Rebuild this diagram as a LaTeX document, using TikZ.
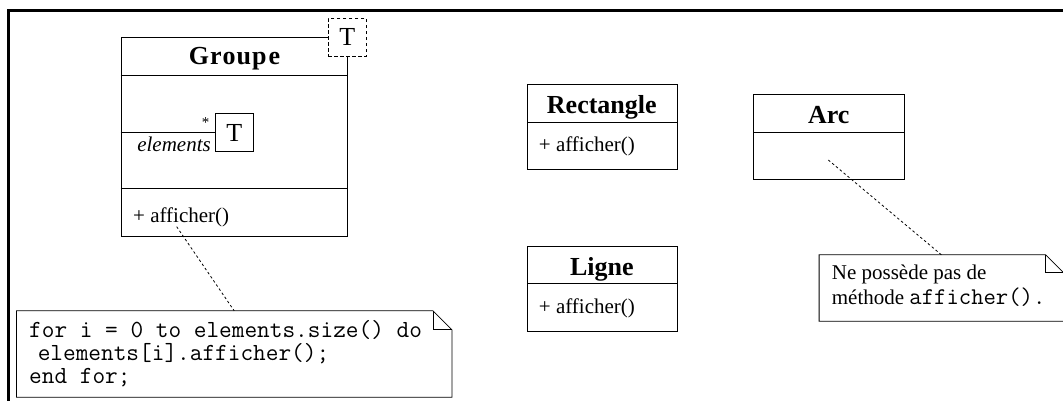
\documentclass[tikz,border=0pt]{standalone}
\usepackage{fontspec}
\setmainfont{Liberation Serif}
\setmonofont{Latin Modern Mono}
\begin{document}
\begin{tikzpicture}[x=1pt,y=-1pt,
  box/.style={draw, line width=0.9pt, inner sep=0pt, minimum width=#1},
  sep/.style={line width=0.9pt},
  cname/.style={font=\fontsize{26}{28}\selectfont\bfseries, anchor=base, inner sep=0pt},
  op/.style={font=\fontsize{21}{23}\selectfont, anchor=base west, inner sep=0pt},
  txt/.style={font=\fontsize{21}{23}\selectfont, anchor=base west, inner sep=0pt},
  code/.style={font=\fontsize{24.6}{26}\selectfont\ttfamily, anchor=base west, inner sep=0pt},
  tbox/.style={draw, line width=0.9pt, fill=white, minimum size=38pt, inner sep=0pt, font=\fontsize{26}{28}\selectfont},
  notebox/.style={inner sep=0pt},
  link/.style={line width=0.8pt, dash pattern=on 2.5pt off 2.5pt}
]
\useasboundingbox (0,0) rectangle (1063,401);
\fill[white] (0,0) rectangle (1063,401);
% outer frame (cropped)
\draw[line width=3pt] (8.5,430) -- (8.5,10.5) -- (1100,10.5);

% ---------- Groupe ----------
\node[box=226.8pt, minimum height=198.7pt, anchor=north west] (groupe) at (120.5,37.3) {};
\draw[sep] (120.5,75.3) -- (347.3,75.3);
\draw[sep] (120.5,188.7) -- (347.3,188.7);
\node[cname] (groupeN) at (234.5,65) {G\kern1pt r\kern1pt o\kern1pt u\kern1pt p\kern2pt e};
\node[op] (groupeOp) at (133,222.5) {+ afficher()};
\node[tbox, dashed, dash pattern=on 3.5pt off 2.5pt] (tparam) at (347.3,37.2) {T};
\node[tbox, fill=none] (tinner) at (234.2,132.5) {T};
\coordinate (attL) at (120.5,132.3);
\draw[line width=0.8pt] (attL) -- (attL -| tinner.west);
\node[font=\fontsize{15}{16}\selectfont, inner sep=0pt] (mult) at (205.5,123) {*};
\node[font=\fontsize{21}{23}\selectfont\itshape, anchor=base east, inner sep=0pt] (role) at (211,151.5) {elements};

% ---------- Rectangle ----------
\node[box=149.5pt, minimum height=85pt, anchor=north west] (rect) at (527,84.5) {};
\draw[sep] (527,122.5) -- (676.5,122.5);
\node[cname] (rectN) at (601.8,114) {Rectangle};
\node[op] (rectOp) at (538.7,152) {+ afficher()};

% ---------- Ligne ----------
\node[box=149.5pt, minimum height=84.5pt, anchor=north west] (ligne) at (527,246) {};
\draw[sep] (527,283.5) -- (676.5,283.5);
\node[cname] (ligneN) at (601.8,275.5) {Ligne};
\node[op] (ligneOp) at (538.7,313.5) {+ afficher()};

% ---------- Arc ----------
\node[box=151pt, minimum height=85pt, anchor=north west] (arc) at (753.3,94.3) {};
\draw[sep] (753.3,132.3) -- (904.3,132.3);
\node[cname] (arcN) at (828.8,123.8) {Arc};

% ---------- Note 1 ----------
\node[notebox, minimum width=435pt, minimum height=86pt] (note1) at (234.2,354) {};
\draw[line width=0.8pt] (note1.north west) -- ([xshift=-19pt]note1.north east) -- ([yshift=-19pt]note1.north east) -- (note1.south east) -- (note1.south west) -- cycle;
\draw[line width=0.8pt] ([xshift=-19pt]note1.north east) |- ([yshift=-19pt]note1.north east);
\node[code] (c1) at (29,337.7) {for i = 0 to elements.size() do};
\node[code] (c2) at (29,360.7) {\hspace*{0.35em}elements[i].afficher();};
\node[code] (c3) at (29,383.3) {end for;};

% ---------- Note 2 ----------
\node[notebox, minimum width=244.2pt, minimum height=66pt] (note2) at (941.4,288) {};
\draw[line width=0.8pt] (note2.north west) -- ([xshift=-18pt]note2.north east) -- ([yshift=-18pt]note2.north east) -- (note2.south east) -- (note2.south west) -- cycle;
\draw[line width=0.8pt] ([xshift=-18pt]note2.north east) |- ([yshift=-18pt]note2.north east);
\node[txt] (n1) at (831.7,279.3) {Ne possède pas de};
\node[txt] (n2) at (831.7,304) {méthode {\fontsize{24}{26}\selectfont\ttfamily afficher().}};

% ---------- links ----------
\coordinate (gAnchor) at (176.7,226.7);
\coordinate (aAnchor) at (828.3,160);
\draw[link] (gAnchor) -- (note1.north);
\draw[link] (aAnchor) -- (note2.north);
\end{tikzpicture}
\end{document}
